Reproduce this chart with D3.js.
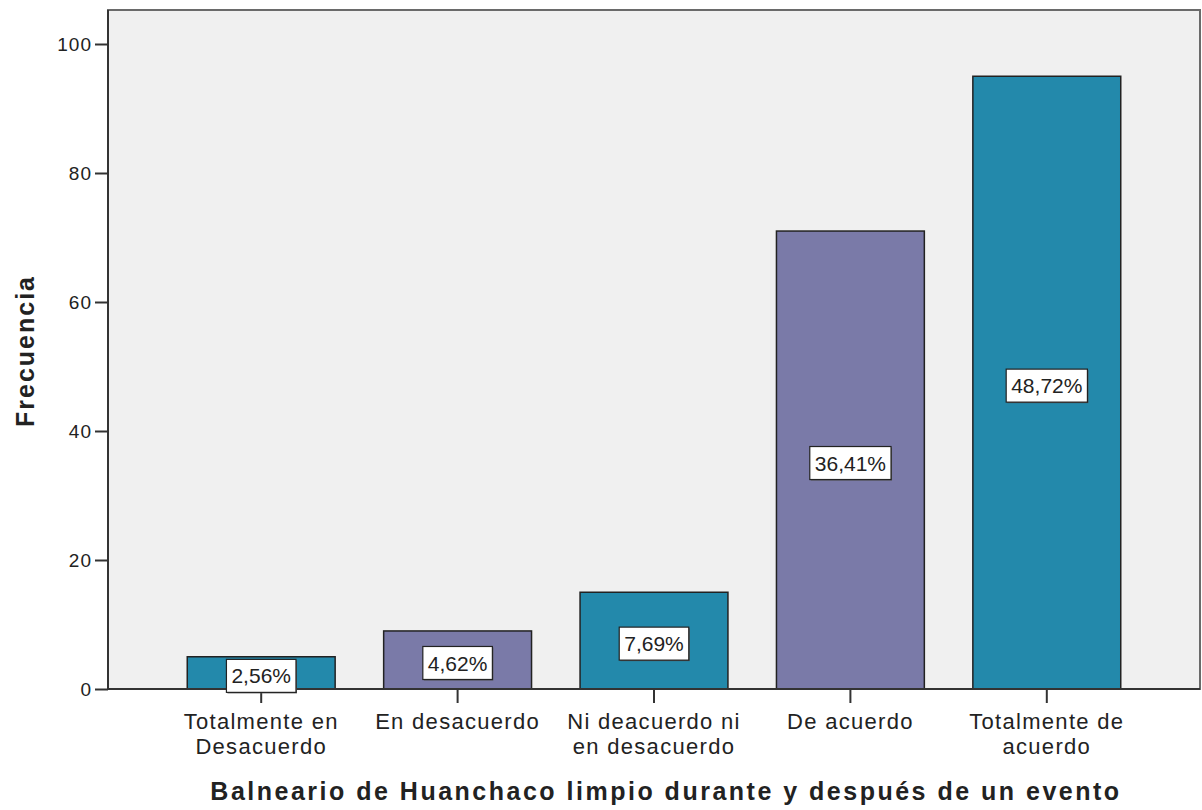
<!DOCTYPE html>
<html>
<head>
<meta charset="utf-8">
<script src="https://cdn.jsdelivr.net/npm/d3@7"></script>
<style>
  body { margin: 0; background: #fff; }
  text { font-family: "Liberation Sans", Arial, sans-serif; fill: #222; }
</style>
</head>
<body>
<div id="chart"></div>
<script>
// Data
var categories = [
  ["Totalmente en", "Desacuerdo"],
  ["En desacuerdo"],
  ["Ni deacuerdo ni", "en desacuerdo"],
  ["De acuerdo"],
  ["Totalmente de", "acuerdo"]
];
var counts = [5, 9, 15, 71, 95];
var percentLabels = ["2,56%", "4,62%", "7,69%", "36,41%", "48,72%"];
var yTicks = [0, 20, 40, 60, 80, 100];
var barColors = ["#2389ab", "#7a7aa8"];

var width = 1202, height = 810;
var frame = {left: 108, top: 10, right: 1200, bottom: 689};

var svg = d3.select('#chart').append('svg')
    .attr('width', width)
    .attr('height', height);

// Scales
var x = d3.scaleBand()
    .domain(d3.range(counts.length))
    .range([frame.left + 55, frame.right - 55])
    .paddingInner(0.247)
    .paddingOuter(0.1235);

var y = d3.scaleLinear()
    .domain([0, 100])
    .range([frame.bottom, 44]);

// Plot background
svg.append('rect')
    .attr('x', frame.left)
    .attr('y', frame.top)
    .attr('width', frame.right - frame.left)
    .attr('height', frame.bottom - frame.top)
    .attr('fill', '#f0f0f0')
    .attr('stroke', '#6a6a6a')
    .attr('stroke-width', 2);

// Bars
svg.append('g').selectAll('rect')
    .data(counts)
    .enter().append('rect')
    .attr('x', function(d, i) { return x(i); })
    .attr('y', function(d) { return y(d); })
    .attr('width', x.bandwidth())
    .attr('height', function(d) { return y(0) - y(d); })
    .attr('fill', function(d, i) { return barColors[i % 2]; })
    .attr('stroke', '#222')
    .attr('stroke-width', 1.5);

// Left and bottom axis lines
svg.append('line')
    .attr('x1', frame.left).attr('x2', frame.left)
    .attr('y1', frame.top).attr('y2', frame.bottom)
    .attr('stroke', '#333').attr('stroke-width', 2);
svg.append('line')
    .attr('x1', frame.left).attr('x2', frame.right)
    .attr('y1', frame.bottom).attr('y2', frame.bottom)
    .attr('stroke', '#333').attr('stroke-width', 2);

// Y axis
var yAxis = svg.append('g')
    .attr('transform', 'translate(' + frame.left + ',0)')
    .call(d3.axisLeft(y).tickValues(yTicks).tickSize(13).tickPadding(3));
yAxis.select('.domain').remove();
yAxis.selectAll('line').attr('stroke', '#333').attr('stroke-width', 2);
yAxis.selectAll('text')
    .style('font-size', '19px')
    .style('letter-spacing', '1px')
    .attr('fill', '#222');

// X ticks
svg.append('g').selectAll('line')
    .data(counts)
    .enter().append('line')
    .attr('x1', function(d, i) { return x(i) + x.bandwidth() / 2; })
    .attr('x2', function(d, i) { return x(i) + x.bandwidth() / 2; })
    .attr('y1', frame.bottom)
    .attr('y2', frame.bottom + 14)
    .attr('stroke', '#333')
    .attr('stroke-width', 2);

// X category labels
var xLab = svg.append('g').selectAll('text')
    .data(categories)
    .enter().append('text')
    .attr('text-anchor', 'middle')
    .style('font-size', '22px')
    .style('letter-spacing', '1.3px')
    .attr('x', function(d, i) { return x(i) + x.bandwidth() / 2; })
    .attr('y', 729);
xLab.selectAll('tspan')
    .data(function(d) { return d; })
    .enter().append('tspan')
    .attr('x', function() { return d3.select(this.parentNode).attr('x'); })
    .attr('dy', function(d, j) { return j === 0 ? 0 : 25; })
    .text(function(d) { return d; });

// Percentage labels in boxes
var lab = svg.append('g').selectAll('g')
    .data(counts)
    .enter().append('g')
    .attr('transform', function(d, i) {
        return 'translate(' + (x(i) + x.bandwidth() / 2) + ',' + ((y(d) + y(0)) / 2 + 3) + ')';
    });
lab.append('rect').attr('class', 'shadow');
lab.append('rect').attr('class', 'box');
lab.append('text')
    .attr('text-anchor', 'middle')
    .attr('dy', '0.36em')
    .style('font-size', '21px')
    .text(function(d, i) { return percentLabels[i]; });
lab.each(function() {
    var g = d3.select(this);
    var w = g.select('text').node().getComputedTextLength() + 10;
    var h = 33;
    g.select('.shadow')
        .attr('x', -w / 2 + 1).attr('y', -h / 2 + 1)
        .attr('width', w).attr('height', h)
        .attr('fill', '#555');
    g.select('.box')
        .attr('x', -w / 2).attr('y', -h / 2)
        .attr('width', w).attr('height', h)
        .attr('fill', '#fff')
        .attr('stroke', '#222')
        .attr('stroke-width', 1.2);
});

// Axis titles
svg.append('text')
    .attr('x', 666)
    .attr('y', 800)
    .attr('text-anchor', 'middle')
    .style('font-size', '25px')
    .style('font-weight', 'bold')
    .style('letter-spacing', '2.5px')
    .attr('fill', '#111')
    .text('Balneario de Huanchaco limpio durante y después de un evento');

svg.append('text')
    .attr('transform', 'translate(34,351) rotate(-90)')
    .attr('text-anchor', 'middle')
    .style('font-size', '25px')
    .style('font-weight', 'bold')
    .style('letter-spacing', '2px')
    .attr('fill', '#111')
    .text('Frecuencia');
</script>
</body>
</html>
